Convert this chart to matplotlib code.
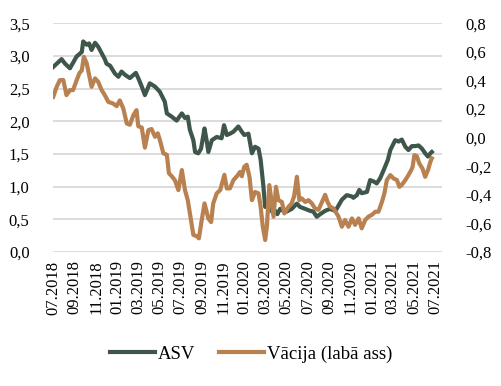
import matplotlib
matplotlib.use("Agg")
import matplotlib.pyplot as plt
import matplotlib.dates as mdates
from matplotlib.ticker import FuncFormatter, MultipleLocator
import pandas as pd

plt.rcParams['font.family'] = ['Liberation Serif', 'DejaVu Serif']

# ASV (kreisā ass)
asv_dates = [
    '2018-07-01', '2018-07-25', '2018-08-04', '2018-08-18', '2018-09-06', '2018-09-21',
    '2018-09-25', '2018-10-05', '2018-10-12', '2018-10-19', '2018-10-29', '2018-11-07',
    '2018-11-17', '2018-11-26', '2018-12-01', '2018-12-11', '2018-12-25', '2019-01-04',
    '2019-01-13', '2019-01-23', '2019-02-06', '2019-02-23', '2019-03-02', '2019-03-12',
    '2019-03-21', '2019-04-04', '2019-04-19', '2019-05-03', '2019-05-17', '2019-05-23',
    '2019-06-06', '2019-06-20', '2019-07-05', '2019-07-14', '2019-07-22', '2019-07-28',
    '2019-08-07', '2019-08-12', '2019-08-21', '2019-08-29', '2019-09-08', '2019-09-14',
    '2019-09-19', '2019-09-29', '2019-10-13', '2019-10-27', '2019-11-03', '2019-11-11',
    '2019-11-20', '2019-11-30', '2019-12-14', '2019-12-24', '2019-12-31', '2020-01-12',
    '2020-01-22', '2020-01-31', '2020-02-10', '2020-02-16', '2020-02-24', '2020-02-29',
    '2020-03-09', '2020-03-19', '2020-03-29', '2020-04-04', '2020-04-12', '2020-04-21',
    '2020-05-01', '2020-05-15', '2020-05-30', '2020-06-08', '2020-06-23', '2020-07-07',
    '2020-07-16', '2020-07-26', '2020-08-05', '2020-08-19', '2020-09-02', '2020-09-17',
    '2020-09-22', '2020-10-06', '2020-10-20', '2020-11-04', '2020-11-08', '2020-11-18',
    '2020-11-25', '2020-12-02', '2020-12-17', '2020-12-26', '2021-01-05', '2021-01-14',
    '2021-01-24', '2021-02-05', '2021-02-15', '2021-02-22', '2021-03-08', '2021-03-18',
    '2021-03-27', '2021-04-06', '2021-04-15', '2021-04-25', '2021-05-04', '2021-05-14',
    '2021-05-24', '2021-06-02', '2021-06-10', '2021-06-17', '2021-06-21',
]
asv_values = [
    2.83, 2.95, 2.88, 2.81, 2.99, 3.06,
    3.22, 3.17, 3.19, 3.09, 3.20, 3.14,
    3.04, 2.95, 2.88, 2.85, 2.73, 2.68,
    2.76, 2.71, 2.66, 2.74, 2.66, 2.53,
    2.40, 2.58, 2.53, 2.45, 2.30, 2.12,
    2.07, 2.01, 2.12, 2.05, 2.07, 1.87,
    1.71, 1.53, 1.51, 1.58, 1.89, 1.71,
    1.53, 1.71, 1.76, 1.74, 1.94, 1.79,
    1.81, 1.84, 1.92, 1.84, 1.79, 1.81,
    1.51, 1.61, 1.58, 1.41, 1.00, 0.69,
    0.71, 0.62, 0.63, 0.58, 0.66, 0.63,
    0.62, 0.66, 0.74, 0.69, 0.66, 0.63,
    0.62, 0.54, 0.58, 0.63, 0.66, 0.63,
    0.67, 0.80, 0.87, 0.85, 0.83, 0.87,
    0.95, 0.90, 0.92, 1.10, 1.08, 1.05,
    1.13, 1.28, 1.41, 1.56, 1.71, 1.69,
    1.72, 1.61, 1.56, 1.62, 1.62, 1.63,
    1.58, 1.51, 1.46, 1.51, 1.53,
]

# Vācija (labā ass)
de_dates = [
    '2018-07-01', '2018-07-11', '2018-07-20', '2018-07-30', '2018-08-08', '2018-08-18',
    '2018-08-27', '2018-09-06', '2018-09-14', '2018-09-21', '2018-09-27', '2018-10-05',
    '2018-10-12', '2018-10-19', '2018-10-29', '2018-11-07', '2018-11-17', '2018-11-26',
    '2018-12-06', '2018-12-20', '2018-12-30', '2019-01-08', '2019-01-18', '2019-01-28',
    '2019-02-06', '2019-02-16', '2019-02-25', '2019-03-02', '2019-03-12', '2019-03-21',
    '2019-03-31', '2019-04-09', '2019-04-19', '2019-04-27', '2019-05-03', '2019-05-13',
    '2019-05-23', '2019-05-29', '2019-06-06', '2019-06-15', '2019-06-25', '2019-07-05',
    '2019-07-14', '2019-07-22', '2019-07-28', '2019-08-07', '2019-08-17', '2019-08-23',
    '2019-08-31', '2019-09-08', '2019-09-19', '2019-09-27', '2019-10-03', '2019-10-13',
    '2019-10-23', '2019-11-04', '2019-11-11', '2019-11-20', '2019-11-30', '2019-12-10',
    '2019-12-19', '2019-12-24', '2019-12-31', '2020-01-07', '2020-01-15', '2020-01-22',
    '2020-01-31', '2020-02-10', '2020-02-16', '2020-02-22', '2020-02-29', '2020-03-05',
    '2020-03-12', '2020-03-19', '2020-03-24', '2020-03-31', '2020-04-07', '2020-04-17',
    '2020-04-24', '2020-05-06', '2020-05-15', '2020-05-22', '2020-05-30', '2020-06-06',
    '2020-06-13', '2020-06-23', '2020-07-02', '2020-07-12', '2020-07-21', '2020-07-31',
    '2020-08-10', '2020-08-19', '2020-08-26', '2020-09-02', '2020-09-12', '2020-09-21',
    '2020-09-26', '2020-10-06', '2020-10-15', '2020-10-25', '2020-11-04', '2020-11-13',
    '2020-11-23', '2020-12-02', '2020-12-12', '2020-12-21', '2020-12-31', '2021-01-10',
    '2021-01-19', '2021-01-29', '2021-02-05', '2021-02-12', '2021-02-22', '2021-03-03',
    '2021-03-13', '2021-03-20', '2021-03-27', '2021-04-06', '2021-04-15', '2021-04-23',
    '2021-04-27', '2021-05-02', '2021-05-09', '2021-05-16', '2021-05-25', '2021-06-02',
    '2021-06-10', '2021-06-17', '2021-06-21',
]
de_values = [
    0.285, 0.355, 0.402, 0.402, 0.297, 0.332,
    0.332, 0.400, 0.450, 0.470, 0.565, 0.520,
    0.437, 0.355, 0.414, 0.390, 0.332, 0.297,
    0.250, 0.238, 0.220, 0.260, 0.204, 0.099,
    0.090, 0.157, 0.192, 0.080, 0.070, -0.070,
    0.052, 0.060, 0.006, 0.030, -0.017, -0.110,
    -0.120, -0.250, -0.270, -0.297, -0.367, -0.227,
    -0.367, -0.437, -0.530, -0.680, -0.690, -0.704,
    -0.576, -0.460, -0.565, -0.590, -0.460, -0.390,
    -0.367, -0.260, -0.355, -0.355, -0.297, -0.270,
    -0.240, -0.270, -0.204, -0.190, -0.274, -0.437,
    -0.380, -0.390, -0.483, -0.620, -0.716, -0.620,
    -0.332, -0.460, -0.553, -0.344, -0.437, -0.450,
    -0.530, -0.483, -0.460, -0.410, -0.274, -0.437,
    -0.425, -0.450, -0.437, -0.460, -0.495, -0.505,
    -0.450, -0.400, -0.450, -0.483, -0.495, -0.530,
    -0.550, -0.623, -0.576, -0.623, -0.565, -0.610,
    -0.565, -0.634, -0.576, -0.553, -0.540, -0.518,
    -0.518, -0.449, -0.390, -0.297, -0.262, -0.285,
    -0.297, -0.344, -0.330, -0.297, -0.262, -0.227,
    -0.204, -0.122, -0.130, -0.180, -0.215, -0.274,
    -0.227, -0.169, -0.145,
]

green = '#3f574b'
brown = '#b98150'

def comma(v, pos):
    return f'{v:.1f}'.replace('.', ',')

fig = plt.figure(figsize=(5.02, 3.86), dpi=100)
ax = fig.add_axes([0.106, 0.347, 0.775, 0.593])
ax2 = ax.twinx()

# Vācija zīmēta virs ASV (labā ass)
l1, = ax.plot(pd.to_datetime(asv_dates), asv_values, color=green, lw=3, label='ASV')
l2, = ax2.plot(pd.to_datetime(de_dates), de_values, color=brown, lw=3, label='Vācija (labā ass)')

ax.set_ylim(0, 3.5)
ax.yaxis.set_major_locator(MultipleLocator(0.5))
ax.yaxis.set_major_formatter(FuncFormatter(comma))
ax2.set_ylim(-0.8, 0.8)
ax2.yaxis.set_major_locator(MultipleLocator(0.2))
ax2.yaxis.set_major_formatter(FuncFormatter(comma))

ax.set_xlim(pd.Timestamp('2018-07-01'), pd.Timestamp('2021-07-21'))
ax.xaxis.set_major_locator(mdates.MonthLocator(bymonth=[1, 3, 5, 7, 9, 11]))
ax.xaxis.set_major_formatter(mdates.DateFormatter('%m.%Y'))

ax.grid(axis='y', color='#d9d9d9', lw=1.3)
ax.set_axisbelow(True)
for a in (ax, ax2):
    for s in a.spines.values():
        s.set_visible(False)
ax.tick_params(axis='y', length=0, pad=17, labelsize=12)
ax2.tick_params(axis='y', length=0, pad=17, labelsize=12)
ax.tick_params(axis='x', length=0, pad=6, labelsize=12, rotation=90)

fig.legend(handles=[l1, l2], loc='center', bbox_to_anchor=(0.5, 0.083), ncol=2,
           frameon=False, fontsize=13.5, handlelength=2.4, handletextpad=0.15,
           columnspacing=1.3)

plt.savefig('out.png', dpi=100)
